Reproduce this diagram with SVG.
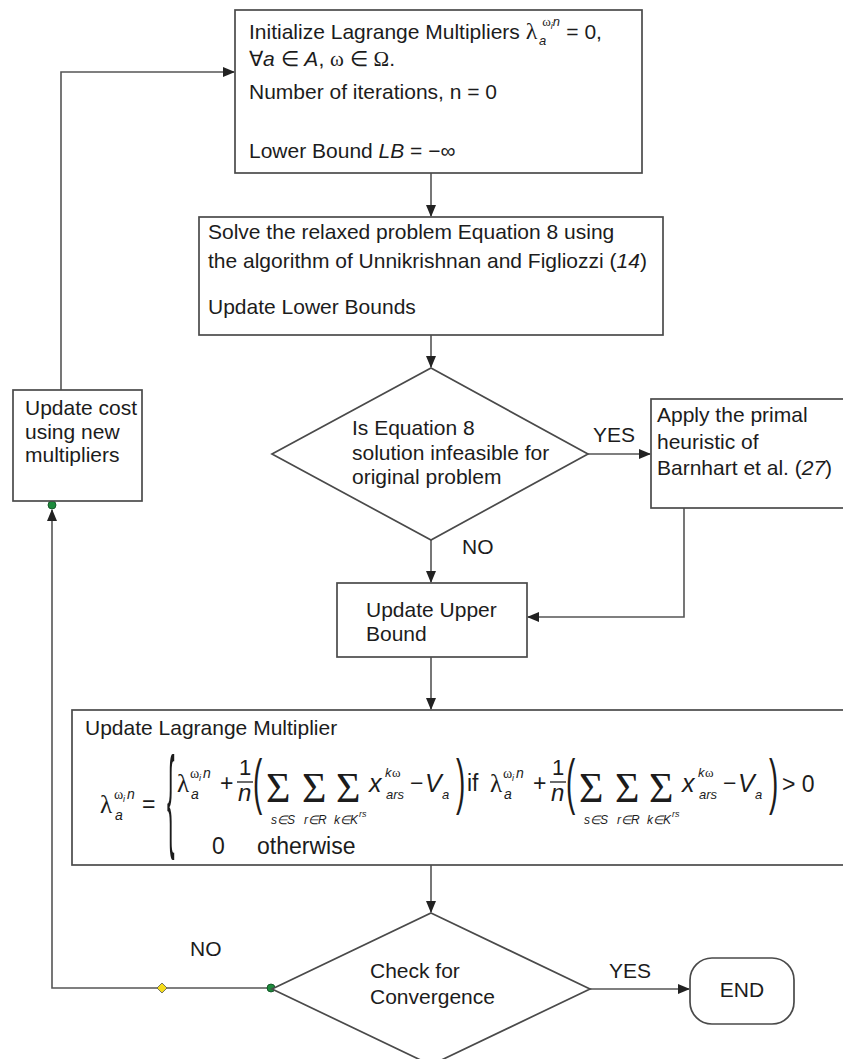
<svg xmlns="http://www.w3.org/2000/svg" width="843" height="1059" viewBox="0 0 843 1059">
<style>
.t{font-family:"Liberation Sans",Arial,sans-serif;font-size:21px;fill:#1c1c1c}
.m{font-family:"Liberation Sans",Arial,sans-serif;fill:#1c1c1c}
.g{font-family:"Liberation Serif","Times New Roman",serif;fill:#1c1c1c}
.i{font-style:italic}
.box{fill:#fff;stroke:#4a4a4a;stroke-width:1.7}
.ln{fill:none;stroke:#555;stroke-width:1.6}
.sub{font-family:"Liberation Sans",Arial,sans-serif;font-style:italic;font-size:12px;fill:#1c1c1c}
</style>
<defs>
<marker id="ah" markerWidth="12" markerHeight="10" refX="11" refY="5" orient="auto" markerUnits="userSpaceOnUse"><path d="M0,0 L12,5 L0,10 z" fill="#222"/></marker>
</defs>

<g id="connectors">
<path class="ln" d="M61,390 V72 H234" marker-end="url(#ah)"/>
<path class="ln" d="M431,173 V216" marker-end="url(#ah)"/>
<path class="ln" d="M431,335 V367" marker-end="url(#ah)"/>
<path class="ln" d="M588,454 H650" marker-end="url(#ah)"/>
<path class="ln" d="M684,508 V617 H528" marker-end="url(#ah)"/>
<path class="ln" d="M431,540 V582" marker-end="url(#ah)"/>
<path class="ln" d="M431,657 V709" marker-end="url(#ah)"/>
<path class="ln" d="M431,865 V912" marker-end="url(#ah)"/>
<path class="ln" d="M590,989 H689" marker-end="url(#ah)"/>
<path class="ln" d="M272,988 H52 V510" marker-end="url(#ah)"/>
<text class="t" x="593" y="442">YES</text>
<text class="t" x="462" y="554">NO</text>
<text class="t" x="609" y="978">YES</text>
<text class="t" x="190" y="956">NO</text>
<path d="M162,983 L167,988 L162,993 L157,988 z" fill="#f5dc1a" stroke="#555" stroke-width="0.8"/>
<circle cx="271" cy="988" r="4" fill="#1d8a3c" stroke="#0b4a1e" stroke-width="0.8"/>
<circle cx="52" cy="505" r="4" fill="#1d8a3c" stroke="#0b4a1e" stroke-width="0.8"/>
</g>

<g id="init">
<rect class="box" x="235" y="10" width="407" height="163"/>
<text class="t" x="249" y="39" font-size="20">Initialize Lagrange Multipliers <tspan class="g" font-size="24">λ</tspan><tspan class="g" font-size="13" dx="5" dy="-13">ω</tspan><tspan class="i" font-size="9" dy="3">i</tspan><tspan class="i" font-size="13" dy="-3">n</tspan><tspan class="i" font-size="13" dx="-21" dy="19">a</tspan><tspan dx="20" dy="-6">= 0,</tspan></text>
<text class="t" x="249" y="66">∀<tspan class="i">a</tspan> ∈ <tspan class="i">A</tspan>, <tspan class="g">ω</tspan> ∈ <tspan class="g">Ω</tspan>.</text>
<text class="t" x="249" y="99">Number of iterations, n = 0</text>
<text class="t" x="249" y="158">Lower Bound <tspan class="i">LB</tspan> = −∞</text>
</g>

<g id="solve">
<rect class="box" x="199" y="217" width="464" height="118"/>
<text class="t" x="208" y="239">Solve the relaxed  problem Equation 8 using</text>
<text class="t" x="208" y="268">the algorithm of Unnikrishnan and Figliozzi (<tspan class="i">14</tspan>)</text>
<text class="t" x="208" y="314">Update Lower Bounds</text>
</g>

<g id="decision1">
<polygon class="box" points="431,368 588,454 431,540 272,454"/>
<text class="t" x="352" y="435">Is Equation 8</text>
<text class="t" x="352" y="460">solution infeasible for</text>
<text class="t" x="352" y="484">original problem</text>
</g>

<g id="primal">
<rect class="box" x="651" y="399" width="200" height="109"/>
<text class="t" x="657" y="422">Apply the primal</text>
<text class="t" x="657" y="449">heuristic of</text>
<text class="t" x="657" y="475">Barnhart et al. (<tspan class="i">27</tspan>)</text>
</g>

<g id="upper">
<rect class="box" x="337" y="583" width="190" height="74"/>
<text class="t" x="366" y="617">Update Upper</text>
<text class="t" x="366" y="641">Bound</text>
</g>

<g id="updatecost">
<rect class="box" x="13" y="390" width="129" height="111"/>
<text class="t" x="25" y="415">Update cost</text>
<text class="t" x="25" y="439">using new</text>
<text class="t" x="25" y="462">multipliers</text>
</g>

<g id="multiplier">
<rect class="box" x="72" y="710" width="790" height="155"/>
<text class="t" x="85" y="735">Update Lagrange Multiplier</text>
<text class="g" x="100" y="813" font-size="25">λ</text>
<text class="g" x="114" y="799" font-size="14">ω</text>
<text class="m i" x="123" y="802" font-size="9">i</text>
<text class="m i" x="127" y="799" font-size="14">n</text>
<text class="m i" x="115" y="820" font-size="14">a</text>
<text class="m" x="142" y="812" font-size="23">=</text>
<text class="m" font-size="114" transform="translate(167,836) scale(0.2,1)">{</text>
<g id="case1">
<text class="g" x="177" y="792" font-size="25">λ</text>
<text class="g" x="190" y="778" font-size="14">ω</text>
<text class="m i" x="199" y="781" font-size="9">i</text>
<text class="m i" x="203" y="778" font-size="14">n</text>
<text class="m i" x="191" y="799" font-size="14">a</text>
<text class="m" x="220" y="791" font-size="23">+</text>
<text class="m" x="239" y="775" font-size="22">1</text>
<line x1="237" y1="782" x2="253" y2="782" stroke="#1c1c1c" stroke-width="1.3"/>
<text class="m i" x="238" y="801" font-size="24">n</text>
<text class="m" font-size="62" transform="translate(253,802) scale(0.45,1)">(</text>
<text class="g" x="266" y="802" font-size="42">Σ</text>
<text class="sub" x="271" y="824">s∈S</text>
<text class="g" x="302" y="802" font-size="42">Σ</text>
<text class="sub" x="304" y="824">r∈R</text>
<text class="g" x="336" y="802" font-size="42">Σ</text>
<text class="sub" x="334" y="824">k∈K</text>
<text class="m i" x="359" y="817" font-size="9">rs</text>
<text class="m i" x="369" y="792" font-size="25">x</text>
<text class="m i" x="385" y="777" font-size="13">k</text>
<text class="g" x="392" y="777" font-size="13">ω</text>
<text class="m i" x="386" y="799" font-size="13">ars</text>
<text class="m" x="410" y="791" font-size="23">−</text>
<text class="m i" x="425" y="792" font-size="25">V</text>
<text class="m i" x="442" y="799" font-size="13">a</text>
<text class="m" font-size="62" transform="translate(456,802) scale(0.45,1)">)</text>
</g>
<text class="m" x="467" y="791" font-size="23">if</text>
<g id="case2" transform="translate(313,0)">
<text class="g" x="177" y="792" font-size="25">λ</text>
<text class="g" x="190" y="778" font-size="14">ω</text>
<text class="m i" x="199" y="781" font-size="9">i</text>
<text class="m i" x="203" y="778" font-size="14">n</text>
<text class="m i" x="191" y="799" font-size="14">a</text>
<text class="m" x="220" y="791" font-size="23">+</text>
<text class="m" x="239" y="775" font-size="22">1</text>
<line x1="237" y1="782" x2="253" y2="782" stroke="#1c1c1c" stroke-width="1.3"/>
<text class="m i" x="238" y="801" font-size="24">n</text>
<text class="m" font-size="62" transform="translate(253,802) scale(0.45,1)">(</text>
<text class="g" x="266" y="802" font-size="42">Σ</text>
<text class="sub" x="271" y="824">s∈S</text>
<text class="g" x="302" y="802" font-size="42">Σ</text>
<text class="sub" x="304" y="824">r∈R</text>
<text class="g" x="336" y="802" font-size="42">Σ</text>
<text class="sub" x="334" y="824">k∈K</text>
<text class="m i" x="359" y="817" font-size="9">rs</text>
<text class="m i" x="369" y="792" font-size="25">x</text>
<text class="m i" x="385" y="777" font-size="13">k</text>
<text class="g" x="392" y="777" font-size="13">ω</text>
<text class="m i" x="386" y="799" font-size="13">ars</text>
<text class="m" x="410" y="791" font-size="23">−</text>
<text class="m i" x="425" y="792" font-size="25">V</text>
<text class="m i" x="442" y="799" font-size="13">a</text>
<text class="m" font-size="62" transform="translate(456,802) scale(0.45,1)">)</text>
</g>
<text class="m" x="782" y="792" font-size="23">&gt; 0</text>
<text class="m" x="212" y="854" font-size="23">0</text>
<text class="m" x="257" y="854" font-size="23">otherwise</text>
</g>

<g id="convergence">
<polygon class="box" points="431,913 590,989 431,1065 272,989"/>
<text class="t" x="370" y="978">Check for</text>
<text class="t" x="370" y="1004">Convergence</text>
</g>

<g id="end">
<rect class="box" x="690" y="958" width="104" height="66" rx="22"/>
<text class="t" x="742" y="997" text-anchor="middle">END</text>
</g>
</svg>
